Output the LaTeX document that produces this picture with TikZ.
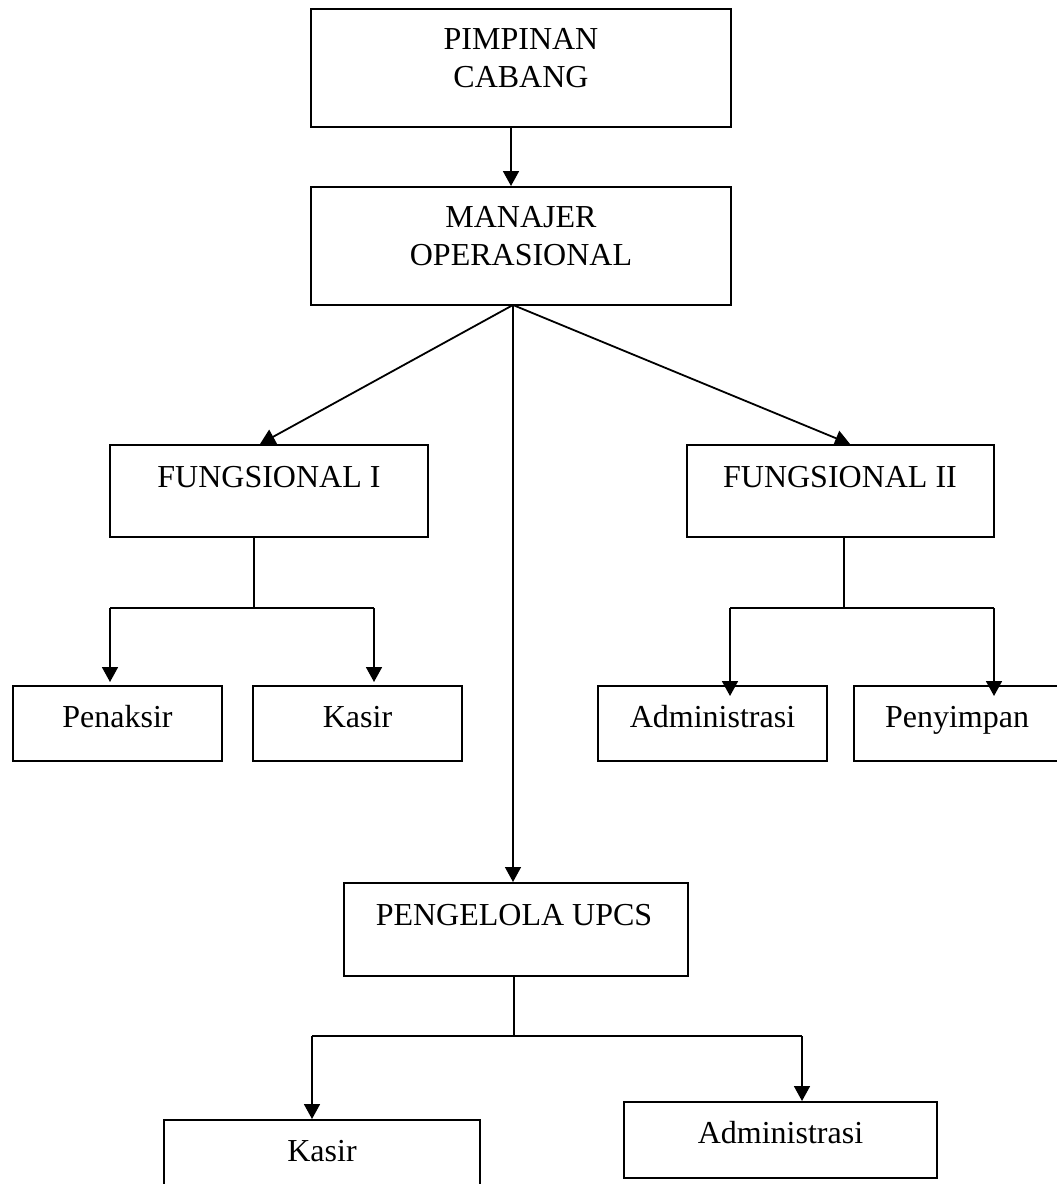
\documentclass[tikz,border=0pt]{standalone}
\usepackage{fontspec}
\setmainfont{Liberation Serif}
\usetikzlibrary{arrows.meta}
\begin{document}
\begin{tikzpicture}[x=0.5pt,y=-0.5pt,
  box/.style={draw=black,line width=1pt,rectangle,inner sep=0pt,anchor=center},
  txt/.style={inner sep=0pt,font=\fontsize{16}{19}\selectfont,align=center},
  conn/.style={draw=black,line width=0.9pt},
  arr/.style={conn,-{Triangle[width=8pt,length=7.5pt]}}]
\useasboundingbox (0,0) rectangle (1056,1184);
% boxes
\node[box,minimum width=210pt,minimum height=59pt] (pc) at (521,68) {};
\node[box,minimum width=210pt,minimum height=59pt] (mo) at (521,246) {};
\node[box,minimum width=159pt,minimum height=46pt] (f1) at (269,491) {};
\node[box,minimum width=153.5pt,minimum height=46pt] (f2) at (840.5,491) {};
\node[box,minimum width=104.5pt,minimum height=37.5pt] (pen) at (117.5,723.5) {};
\node[box,minimum width=104.5pt,minimum height=37.5pt] (kas1) at (357.5,723.5) {};
\node[box,minimum width=114.5pt,minimum height=37.5pt] (adm1) at (712.5,723.5) {};
\node[box,minimum width=103pt,minimum height=37.5pt] (peny) at (957,723.5) {};
\node[box,minimum width=172pt,minimum height=46.5pt] (upcs) at (516,929.5) {};
\node[box,minimum width=158pt,minimum height=40pt] (kas2) at (322,1160) {};
\node[box,minimum width=156.5pt,minimum height=38pt] (adm2) at (780.5,1140) {};
% texts
\node[txt] (pct) at (521,58) {PIMPINAN\\CABANG};
\node[txt] (mot) at (521,236) {MANAJER\\OPERASIONAL};
\node[txt,anchor=base] (f1t) at (269,487) {FUNGSIONAL I};
\node[txt,anchor=base] (f2t) at (840,487) {FUNGSIONAL II};
\node[txt,anchor=base] (pent) at (117.5,727) {Penaksir};
\node[txt,anchor=base] (kas1t) at (357.5,727) {Kasir};
\node[txt,anchor=base] (adm1t) at (712.5,727) {Administrasi};
\node[txt,anchor=base] (penyt) at (957,727) {Penyimpan};
\node[txt,anchor=base] (upcst) at (514,925) {PENGELOLA UPCS};
\node[txt,anchor=base] (kas2t) at (322,1161) {Kasir};
\node[txt,anchor=base] (adm2t) at (780.5,1143) {Administrasi};
% junctions
\coordinate (hub) at (513,305);
\coordinate (j1) at (254,608);
\coordinate (j1l) at (110,608);
\coordinate (j1r) at (374,608);
\coordinate (j2) at (844,608);
\coordinate (j2l) at (730,608);
\coordinate (j2r) at (994,608);
\coordinate (j3) at (514,1036);
\coordinate (j3l) at (312,1036);
\coordinate (j3r) at (802,1036);
% connectors
\draw[arr] ([xshift=-5pt]pc.south) -- ([xshift=-5pt]mo.north);
\draw[arr] (hub) -- ([xshift=-4.5pt]f1.north);
\draw[arr] (hub) -- ([xshift=4.75pt]f2.north);
\draw[arr,line width=0.75pt] (hub) -- (hub |- upcs.north);
\draw[conn] (j1 |- f1.south) -- (j1);
\draw[conn] (j1l) -- (j1r);
\draw[arr,shorten >=1.5pt] (j1l) -- (j1l |- pen.north);
\draw[arr,shorten >=1.5pt] (j1r) -- (j1r |- kas1.north);
\draw[conn] (j2 |- f2.south) -- (j2);
\draw[conn] (j2l) -- (j2r);
\draw[arr,shorten >=-5.5pt] (j2l) -- (j2l |- adm1.north);
\draw[arr,shorten >=-5.5pt] (j2r) -- (j2r |- peny.north);
\draw[conn] (j3 |- upcs.south) -- (j3);
\draw[conn] (j3l) -- (j3r);
\draw[arr] (j3l) -- (j3l |- kas2.north);
\draw[arr] (j3r) -- (j3r |- adm2.north);
\end{tikzpicture}
\end{document}
